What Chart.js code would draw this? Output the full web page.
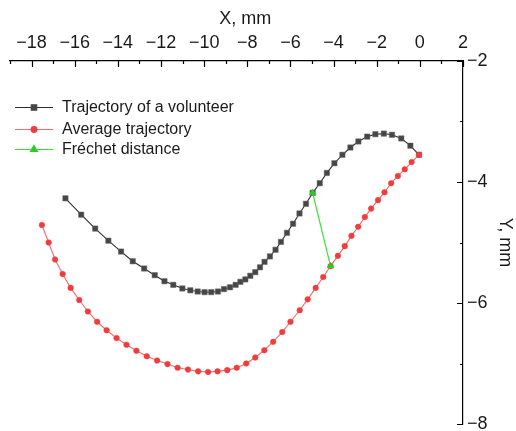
<!DOCTYPE html>
<html lang="en">
<head>
<meta charset="UTF-8">
<title>Volunteer vs average trajectory</title>
<script src="https://cdn.jsdelivr.net/npm/chart.js"></script>
<style>
    html, body { margin: 0; padding: 0; background: #fff; }
    #wrap { width: 516px; height: 431px; }
</style>
</head>
<body>
<div id="wrap"><canvas id="chart" width="516" height="431"></canvas></div>
<script>
    // Trajectory of a volunteer (mm)
    const volunteerX = [-16.43, -15.70, -15.05, -14.44, -13.85, -13.31, -12.78, -12.29, -11.84, -11.43,
        -11.01, -10.64, -10.30, -9.98, -9.67, -9.36, -9.08, -8.80, -8.54, -8.32,
        -8.09, -7.86, -7.63, -7.41, -7.20, -6.95, -6.69, -6.44, -6.16, -5.88,
        -5.58, -5.28, -4.97, -4.64, -4.31, -3.96, -3.59, -3.22, -2.85, -2.44,
        -2.06, -1.67, -1.29, -0.86, -0.44, -0.04];
    const volunteerY = [-4.27, -4.54, -4.77, -4.97, -5.15, -5.31, -5.43, -5.54, -5.64, -5.70,
        -5.76, -5.79, -5.81, -5.82, -5.82, -5.81, -5.77, -5.74, -5.70, -5.65,
        -5.61, -5.55, -5.49, -5.41, -5.32, -5.23, -5.12, -4.99, -4.84, -4.69,
        -4.52, -4.36, -4.18, -4.02, -3.85, -3.69, -3.55, -3.43, -3.33, -3.25,
        -3.21, -3.20, -3.22, -3.28, -3.40, -3.55];

    // Average trajectory (mm)
    const averageX = [-17.52, -17.21, -16.91, -16.56, -16.19, -15.79, -15.39, -14.96, -14.52, -14.06,
        -13.60, -13.14, -12.66, -12.18, -11.70, -11.23, -10.75, -10.28, -9.82, -9.38,
        -8.93, -8.49, -8.05, -7.63, -7.21, -6.80, -6.38, -6.00, -5.57, -5.20,
        -4.83, -4.48, -4.14, -3.80, -3.48, -3.17, -2.86, -2.55, -2.26, -1.94,
        -1.64, -1.33, -1.02, -0.70, -0.38, -0.04];
    const averageY = [-4.71, -5.00, -5.28, -5.52, -5.75, -5.95, -6.14, -6.31, -6.45, -6.58,
        -6.69, -6.79, -6.88, -6.95, -7.01, -7.07, -7.10, -7.13, -7.14, -7.13,
        -7.11, -7.07, -7.00, -6.90, -6.78, -6.64, -6.48, -6.31, -6.12, -5.94,
        -5.75, -5.57, -5.39, -5.22, -5.06, -4.89, -4.74, -4.58, -4.44, -4.30,
        -4.17, -4.02, -3.90, -3.79, -3.67, -3.55];

    // Fréchet distance segment
    const frechetX = [-4.97, -4.14];
    const frechetY = [-4.18, -5.39];

    const seriesNames = ['Trajectory of a volunteer', 'Average trajectory', 'Fréchet distance'];
    const xTicks = [-18, -16, -14, -12, -10, -8, -6, -4, -2, 0, 2];
    const xMinorTicks = [-19, -17, -15, -13, -11, -9, -7, -5, -3, -1, 1];
    const yTicks = [-2, -4, -6, -8];
    const yMinorTicks = [-3, -5, -7];

    const FONT = "'Liberation Sans', Arial, Helvetica, sans-serif";
    const GREY = '#464646';
    const RED = '#f03c3c';
    const GREEN = '#22d022';

    const toPoints = (xs, ys) => xs.map((x, i) => ({x: x, y: ys[i]}));
    const fmt = v => (v < 0 ? '\u2212' + Math.abs(v) : String(v));

    // inward tick marks + x title placed like the original figure
    const axisDecor = {
        id: 'axisDecor',
        afterDraw(chart) {
            const {ctx, chartArea: a, scales: {x, y}} = chart;
            ctx.save();
            ctx.strokeStyle = '#000';
            ctx.lineWidth = 1.2;
            ctx.beginPath();
            xTicks.concat(xMinorTicks).forEach(v => {
                const px = Math.round(x.getPixelForValue(v)) + 0.5;
                const len = xTicks.includes(v) ? 6 : 3;
                ctx.moveTo(px, a.top);
                ctx.lineTo(px, a.top + len);
            });
            yTicks.concat(yMinorTicks).forEach(v => {
                const py = Math.round(y.getPixelForValue(v)) + 0.5;
                const len = yTicks.includes(v) ? 6 : 3;
                ctx.moveTo(a.right, py);
                ctx.lineTo(a.right - len, py);
            });
            ctx.stroke();

            ctx.fillStyle = '#1a1a1a';
            ctx.font = '18px ' + FONT;
            ctx.textAlign = 'center';
            ctx.textBaseline = 'middle';
            ctx.fillText('X, mm', x.getPixelForValue(-8.1), 19);
            ctx.restore();
        }
    };

    // legend drawn in the upper-left corner of the plot
    const cornerLegend = {
        id: 'cornerLegend',
        afterDraw(chart) {
            const ctx = chart.ctx;
            const rows = [107, 129, 149];
            ctx.save();
            ctx.font = '16px ' + FONT;
            ctx.textBaseline = 'middle';
            ctx.textAlign = 'left';
            chart.data.datasets.forEach((ds, i) => {
                const yy = rows[i];
                ctx.strokeStyle = ds.borderColor;
                ctx.lineWidth = 1.2;
                ctx.beginPath();
                ctx.moveTo(15, yy + 0.5);
                ctx.lineTo(53, yy + 0.5);
                ctx.stroke();
                ctx.fillStyle = ds.pointBackgroundColor;
                ctx.strokeStyle = ds.pointBackgroundColor;
                Chart.helpers.drawPoint(ctx, {
                    pointStyle: ds.pointStyle,
                    radius: ds.pointRadius,
                    borderWidth: 0.5,
                    rotation: 0
                }, 34, yy + 0.5);
                ctx.fillStyle = '#1a1a1a';
                ctx.fillText(seriesNames[i], 62, yy + 1);
            });
            ctx.restore();
        }
    };

    new Chart(document.getElementById('chart'), {
        type: 'line',
        data: {
            datasets: [{
                label: seriesNames[0],
                data: toPoints(volunteerX, volunteerY),
                borderColor: '#2e2e2e',
                borderWidth: 1.1,
                pointStyle: 'rect',
                pointRadius: 3.8,
                pointBackgroundColor: GREY,
                pointBorderColor: '#6a6a6a',
                pointBorderWidth: 0.5,
                order: 3
            }, {
                label: seriesNames[1],
                data: toPoints(averageX, averageY),
                borderColor: '#f46a6a',
                borderWidth: 1.1,
                pointStyle: 'circle',
                pointRadius: 2.8,
                pointBackgroundColor: RED,
                pointBorderColor: RED,
                pointBorderWidth: 0.5,
                order: 2
            }, {
                label: seriesNames[2],
                data: toPoints(frechetX, frechetY),
                borderColor: '#3ae03a',
                borderWidth: 1.2,
                pointStyle: 'triangle',
                pointRadius: 4,
                pointBackgroundColor: GREEN,
                pointBorderColor: GREEN,
                pointBorderWidth: 0.5,
                order: 1
            }]
        },
        options: {
            responsive: false,
            animation: false,
            clip: false,
            layout: { padding: { left: 10, top: 0, right: 0, bottom: 7 } },
            plugins: {
                legend: { display: false },
                tooltip: { enabled: false }
            },
            scales: {
                x: {
                    type: 'linear',
                    position: 'top',
                    min: -19,
                    max: 2,
                    afterBuildTicks: s => { s.ticks = xTicks.map(v => ({value: v})); },
                    afterFit: s => { s.height = 61; s.paddingLeft = 0; s.paddingRight = 0; },
                    grid: { display: false, drawTicks: false },
                    border: { display: true, color: '#000', width: 1.2 },
                    ticks: {
                        padding: 7,
                        maxRotation: 0,
                        color: '#1a1a1a',
                        font: { family: FONT, size: 18 },
                        callback: v => fmt(v)
                    }
                },
                y: {
                    type: 'linear',
                    position: 'right',
                    min: -8,
                    max: -2,
                    afterBuildTicks: s => { s.ticks = yTicks.map(v => ({value: v})); },
                    afterFit: s => { s.width = 53; s.paddingTop = 0; s.paddingBottom = 0; },
                    grid: { display: false, drawTicks: false },
                    border: { display: true, color: '#000', width: 1.2 },
                    title: {
                        display: true,
                        text: 'Y, mm',
                        color: '#1a1a1a',
                        padding: { top: 0, bottom: 0 },
                        font: { family: FONT, size: 18 }
                    },
                    ticks: {
                        padding: 4,
                        color: '#1a1a1a',
                        font: { family: FONT, size: 18 },
                        callback: v => fmt(v)
                    }
                }
            }
        },
        plugins: [axisDecor, cornerLegend]
    });
</script>
</body>
</html>
